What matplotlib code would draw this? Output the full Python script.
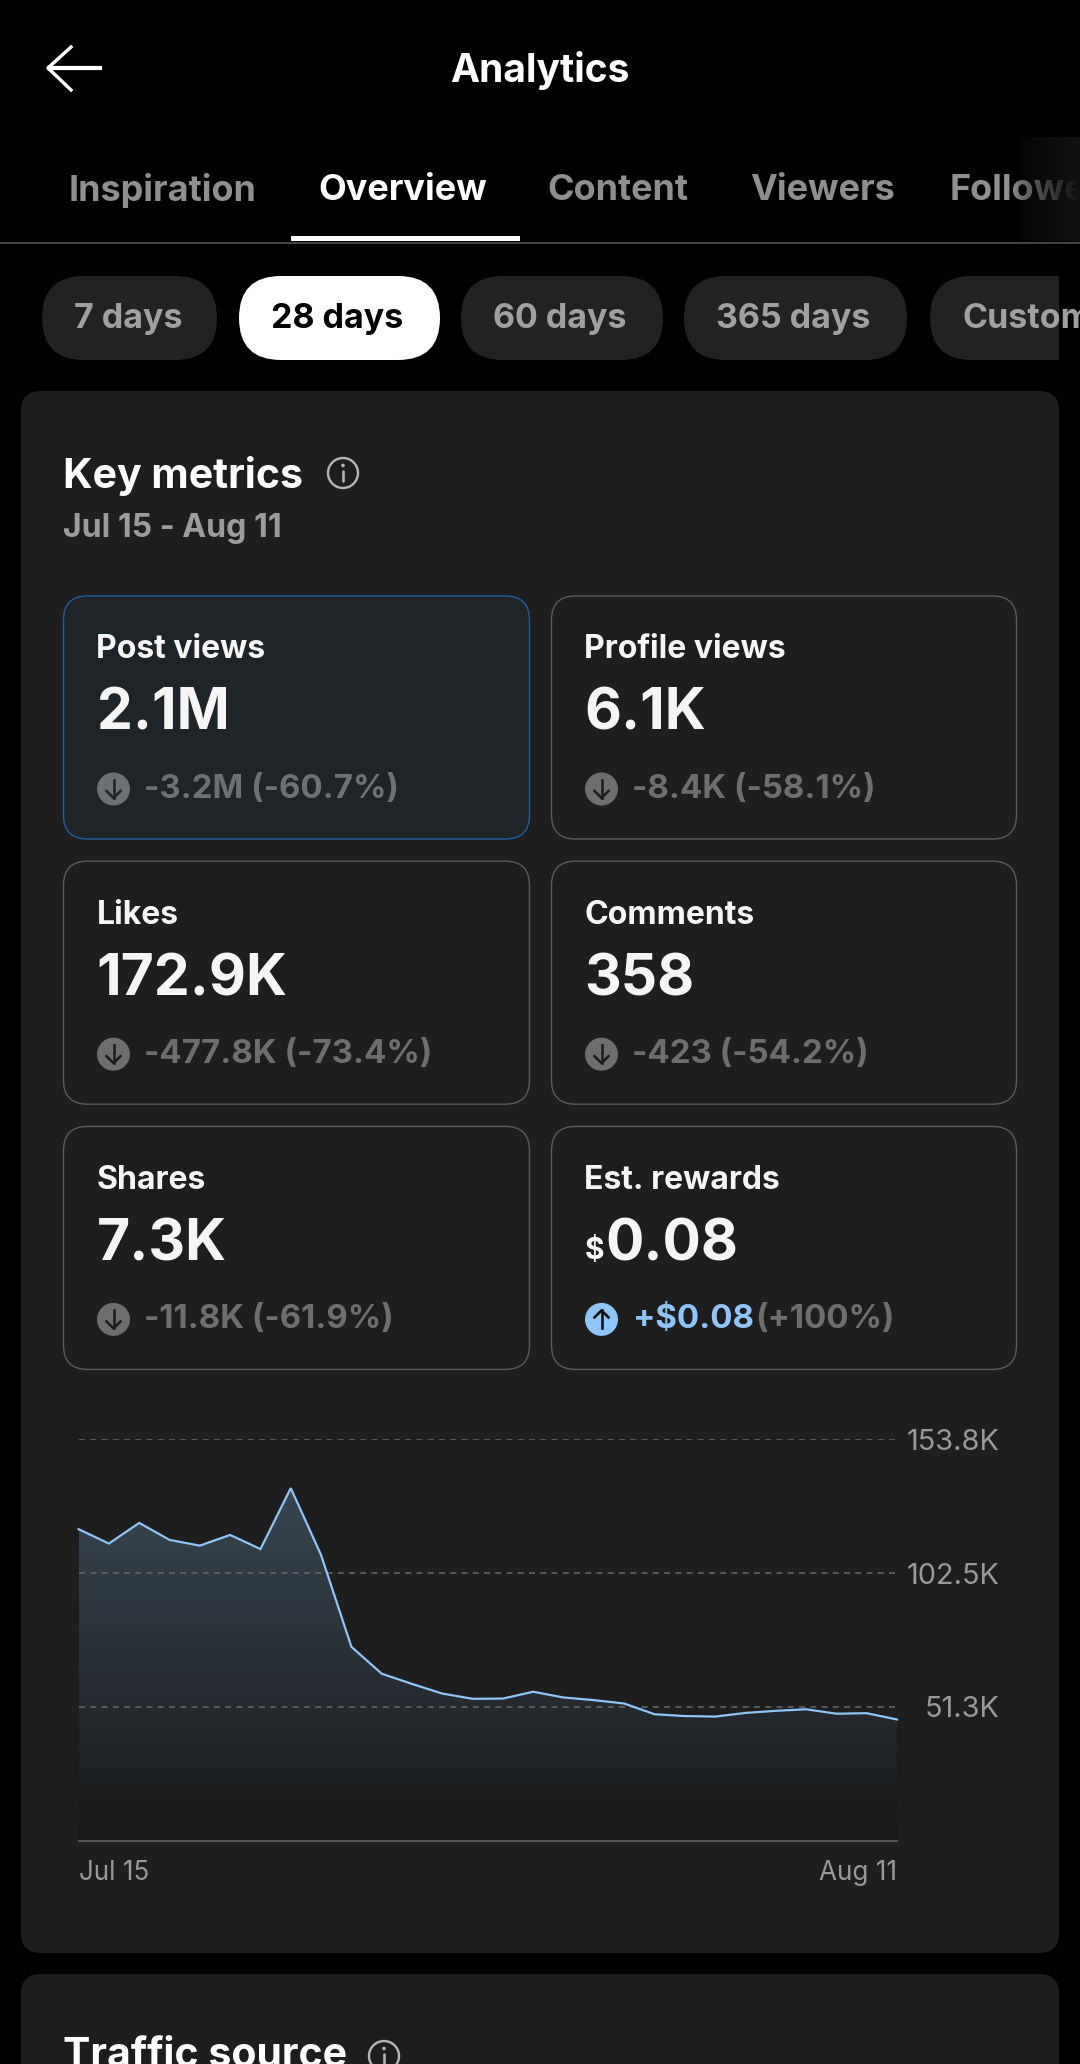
import matplotlib
matplotlib.use("Agg")
import matplotlib.pyplot as plt
import numpy as np
from matplotlib.patches import Circle, FancyBboxPatch, Rectangle

plt.rcParams['font.family'] = ['Inter', 'DejaVu Sans']

# valeurs (en milliers)
days = list(range(28))
post_views = [119.3, 113.8, 121.7, 115.2, 113.0, 117.1, 111.7, 135.0, 109.4, 74.3,
              64.0, 60.1, 56.4, 54.4, 54.5, 57.1, 54.9, 53.9, 52.6, 48.5,
              47.8, 47.6, 49.0, 49.8, 50.4, 48.7, 48.9, 46.5]
y_ticks = [51.3, 102.5, 153.8]
y_labels = ["51.3K", "102.5K", "153.8K"]
x_ticks = [0, 27]
x_labels = ["Jul 15", "Aug 11"]

tabs = ["Inspiration", "Overview", "Content", "Viewers", "Followers"]
tab_x = [69, 318, 547, 750, 950]
pills = ["7 days", "28 days", "60 days", "365 days", "Custom"]
pill_left = [42, 239, 461, 684, 930]
pill_right = [217, 440, 663, 907, 1100]

metric_names = ["Post views", "Profile views", "Likes", "Comments", "Shares", "Est. rewards"]
metric_values = ["2.1M", "6.1K", "172.9K", "358", "7.3K", "0.08"]
metric_deltas = ["-3.2M (-60.7%)", "-8.4K (-58.1%)", "-477.8K (-73.4%)",
                 "-423 (-54.2%)", "-11.8K (-61.9%)", "(+100%)"]

W, H = 1080, 2064
BLACK = "#000000"
CARD = "#1e1e1e"
BLUE = "#8ec5fb"


def px(size):
    # taille de police donnee en pixels
    return size * 72 / 100


def lw(size):
    return size * 72 / 100


def box(ax, x0, y0, x1, y1, r, fc, ec="none", lwd=0.0, z=1):
    p = FancyBboxPatch((x0, y0), x1 - x0, y1 - y0, boxstyle=f"round,pad=0,rounding_size={r}",
                       fc=fc, ec=ec, lw=lw(lwd), zorder=z)
    ax.add_patch(p)
    return p


def info_icon(ax, cx, cy):
    ax.add_patch(Circle((cx, cy), 15, fc="none", ec="#b5b5b5", lw=lw(2.4), zorder=3))
    ax.plot([cx, cx], [cy - 2, cy + 8], color="#b5b5b5", lw=lw(2.6), zorder=3, solid_capstyle="round")
    ax.add_patch(Circle((cx, cy - 7.5), 1.8, fc="#b5b5b5", ec="none", zorder=3))


def delta_icon(ax, cx, cy, fc, ac, up=False):
    ax.add_patch(Circle((cx, cy), 16.5, fc=fc, ec="none", zorder=3))
    s = -1 if up else 1
    ax.plot([cx, cx], [cy - 9 * s, cy + 9 * s], color=ac, lw=lw(2.6), zorder=4)
    ax.plot([cx - 7, cx, cx + 7], [cy + 2 * s, cy + 9 * s, cy + 2 * s], color=ac, lw=lw(2.6), zorder=4)


fig = plt.figure(figsize=(W / 100, H / 100), dpi=100, facecolor=BLACK)
ui = fig.add_axes([0, 0, 1, 1])
ui.set_xlim(0, W)
ui.set_ylim(H, 0)
ui.axis("off")

# entete
ui.plot([100, 49], [68, 68], color="white", lw=lw(4.2), zorder=3)
ui.plot([71, 48, 71], [47, 68, 90], color="white", lw=lw(3.4), zorder=3)
ui.text(540, 70, "Analytics", color="white", fontsize=px(39), fontweight="bold", ha="center", va="center")

# onglets
for name, x in zip(tabs, tab_x):
    c = "white" if name == "Overview" else "#8f8f8f"
    ui.text(x, 190, name, color=c, fontsize=px(36), fontweight="bold", ha="left", va="center", zorder=2)
ui.add_patch(Rectangle((291, 236), 229, 5, fc="white", ec="none", zorder=3))
ui.plot([0, W], [242.5, 242.5], color="#444444", lw=lw(2), zorder=2)
fade = np.zeros((2, 64, 4))
fade[:, :, :3] = 0x12 / 255
fade[:, :, 3] = np.linspace(0, 1, 64) ** 0.7
ui.imshow(fade, extent=[1012, 1080, 241, 137], aspect="auto", zorder=2.5, interpolation="bilinear")
ui.set_xlim(0, W)
ui.set_ylim(H, 0)

# filtres
clip = Rectangle((0, 0), 1059, H, transform=ui.transData)
for name, x0, x1 in zip(pills, pill_left, pill_right):
    on = name == "28 days"
    p = box(ui, x0, 276, x1, 360, 42, "white" if on else "#222222")
    p.set_clip_path(clip)
    t = ui.text(x0 + 32, 319, name, color="black" if on else "#a0a0a0", fontsize=px(34),
                fontweight="bold", ha="left", va="center", zorder=2)
    t.set_clip_path(clip)

# cartes
box(ui, 21, 391, 1059, 1953, 20, CARD)
box(ui, 21, 1974, 1059, 2200, 20, CARD)
ui.text(63, 476, "Key metrics", color="white", fontsize=px(41), fontweight="bold", ha="left", va="center", zorder=3)
info_icon(ui, 343, 473)
ui.text(63, 529, "Jul 15 - Aug 11", color="#9c9c9c", fontsize=px(32), fontweight="bold", ha="left", va="center", zorder=3)
ui.text(63, 2056, "Traffic source", color="white", fontsize=px(41), fontweight="bold", ha="left", va="center", zorder=3)
info_icon(ui, 384, 2056)

# metriques
for i, (name, val, delta) in enumerate(zip(metric_names, metric_values, metric_deltas)):
    col = i % 2
    top = 596 + 265.2 * (i // 2)
    x0 = 63.5 if col == 0 else 551.5
    x1 = 529.5 if col == 0 else 1016.5
    if i == 0:
        box(ui, x0, top, x1, top + 243, 24, "#1f2429", "#1d5f9e", 1.4, z=2)
    else:
        box(ui, x0, top, x1, top + 243, 24, CARD, "#5a5a5a", 1.4, z=2)
    tx = x0 + 33
    ui.text(tx, top + 54, name, color="#f5f5f5", fontsize=px(32), fontweight="bold", ha="left", va="center", zorder=3)
    if name == "Est. rewards":
        ui.text(tx, top + 125, "$", color="#f5f5f5", fontsize=px(30), fontweight="bold", ha="left", va="center", zorder=3)
        ui.text(tx + 21, top + 119, val, color="#f5f5f5", fontsize=px(57), fontweight="bold", ha="left", va="center", zorder=3)
        delta_icon(ui, tx + 17, top + 193, BLUE, "#111111", up=True)
        ui.text(633, top + 193, "+$0.08", color=BLUE, fontsize=px(33), fontweight="bold", ha="left", va="center", zorder=3)
        ui.text(755, top + 193, delta, color="#6e6e6e", fontsize=px(33), fontweight="bold", ha="left", va="center", zorder=3)
    else:
        ui.text(tx, top + 119, val, color="#f5f5f5", fontsize=px(57), fontweight="bold", ha="left", va="center", zorder=3)
        fc = "#6d7074" if i == 0 else "#6e6e6e"
        delta_icon(ui, tx + 17, top + 193, fc, "#1f2429" if i == 0 else CARD)
        ui.text(tx + 47, top + 193, delta, color=fc, fontsize=px(33), fontweight="bold", ha="left", va="center", zorder=3)

# graphique
left, right, top, bottom = 78.6, 897, 1439, 1841
ax = fig.add_axes([left / W, 1 - bottom / H, (right - left) / W, (bottom - top) / H])
ax.patch.set_alpha(0)
ax.set_xlim(days[0], days[-1])
ax.set_ylim(0, y_ticks[-1])
ax.set_zorder(2)

grad_top = np.array([0x38, 0x46, 0x52]) / 255
grad_bot = np.array([0x18, 0x18, 0x18]) / 255
t = np.linspace(0, 1, 256)[:, None, None]
img = (grad_top * (1 - t) + grad_bot * t).reshape(256, 1, 3)
area = ax.fill_between(days, post_views, 0, color="none")
im = ax.imshow(img, extent=[days[0], days[-1], 0, max(post_views)], aspect="auto", zorder=1)
im.set_clip_path(area.get_paths()[0], transform=ax.transData)
ax.set_xlim(days[0], days[-1])
ax.set_ylim(0, y_ticks[-1])

ax.plot(days, post_views, color=BLUE, lw=lw(2.2), zorder=4, clip_on=False, solid_joinstyle="miter")
ax.set_yticks(y_ticks, y_labels)
ax.set_xticks(x_ticks, x_labels)
ax.yaxis.tick_right()
ax.grid(True, axis="y", color="#6a6a6a", lw=lw(1.5), ls=(0, (4, 3.5)), zorder=2)
ax.set_axisbelow(False)
ax.tick_params(axis="y", length=0, pad=74, labelsize=px(29), labelcolor="#999999")
ax.tick_params(axis="x", length=0, pad=14, labelsize=px(26), labelcolor="#999999")
for lab in ax.get_yticklabels():
    lab.set_ha("right")
labs = ax.get_xticklabels()
labs[0].set_ha("left")
labs[1].set_ha("right")
for s in ["top", "left", "right"]:
    ax.spines[s].set_visible(False)
ax.spines["bottom"].set_color("#555555")
ax.spines["bottom"].set_linewidth(lw(2))

fig.savefig("out.png", dpi=100, facecolor=BLACK)
